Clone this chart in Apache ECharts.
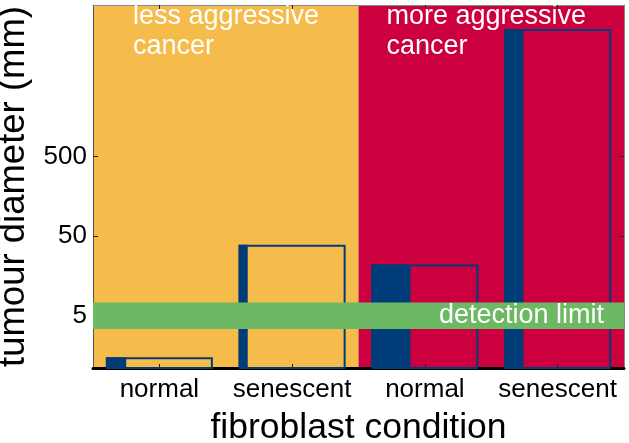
<!DOCTYPE html>
<html><head><meta charset="utf-8">
<script src="https://cdn.jsdelivr.net/npm/echarts@6/dist/echarts.min.js"></script>
<style>html,body{margin:0;padding:0;background:#fff}#c{width:629px;height:443px}</style>
</head><body><div id="c"></div>
<script>
// ---- data ----
const categories = ['normal', 'senescent', 'normal', 'senescent'];
const tumourDiameter = [1.5, 39, 22, 20000];          // outlined bar heights (mm)
const filledShare = [0.19, 0.085, 0.365, 0.18];       // share of each bar drawn filled
const groupLabels = ['less aggressive\ncancer', 'more aggressive\ncancer'];
const groupSpan = [[0, 1, 0], [2, 3, 1]];             // first category, last category, group
const yTicks = [5, 50, 500];
const detectionLimit = [3.4, 7.3];
const detectionLabel = 'detection limit';
const yRange = [1.1, 40000];

// ---- styles ----
const FONT = '"Liberation Sans", Arial, Helvetica, sans-serif';
const bgColors = ['#F5BC4C', '#CC003E'];
const groupLabelOffset = [40, 28];
const blue = '#003C78';
const green = '#6DB862';
const BOX = 0.806;

const chart = echarts.init(document.getElementById('c'), null, {renderer: 'canvas'});

function bandWidth(api) {
  return api.coord([1, 10])[0] - api.coord([0, 10])[0];
}

chart.setOption({
  animation: false,
  grid: {left: 93, right: 5, top: 5, bottom: 75, outerBoundsMode: 'none', containLabel: false},
  xAxis: [{
    type: 'category', data: categories, boundaryGap: true,
    axisLine: {lineStyle: {color: '#000', width: 3}},
    axisTick: {show: true, inside: true, alignWithLabel: true, length: 4, lineStyle: {color: '#222', width: 1}},
    axisLabel: {color: '#000', fontSize: 26, fontFamily: FONT, margin: 9, interval: 0, hideOverlap: false},
    splitLine: {show: false},
    name: 'fibroblast condition', nameLocation: 'middle', nameGap: 42,
    nameTextStyle: {color: '#000', fontSize: 35.5, fontFamily: FONT}
  }, {
    type: 'category', data: categories, position: 'top', boundaryGap: true,
    axisLine: {lineStyle: {color: '#888', width: 1}},
    axisTick: {show: true, inside: true, alignWithLabel: true, length: 4, interval: 0, lineStyle: {color: '#222'}},
    axisLabel: {show: false}, splitLine: {show: false}
  }],
  yAxis: [{
    type: 'log', logBase: 10, min: yRange[0], max: yRange[1],
    axisLine: {show: true, lineStyle: {color: '#555', width: 1}},
    axisTick: {show: true, inside: true, length: 5, customValues: yTicks, lineStyle: {color: '#222'}},
    axisLabel: {customValues: yTicks, color: '#000', fontSize: 26, fontFamily: FONT, margin: 6},
    splitLine: {show: false}, minorTick: {show: false},
    name: 'tumour diameter (mm)', nameLocation: 'middle', nameGap: 50,
    nameTextStyle: {color: '#000', fontSize: 36.5, fontFamily: FONT}
  }, {
    type: 'log', logBase: 10, min: yRange[0], max: yRange[1], position: 'right',
    axisLine: {show: true, lineStyle: {color: '#888', width: 1}},
    axisTick: {show: true, inside: true, length: 5, customValues: yTicks, lineStyle: {color: '#222'}},
    axisLabel: {show: false}, splitLine: {show: false}
  }],
  series: [{
    type: 'custom', z: 0, silent: true,
    data: groupSpan,
    renderItem(params, api) {
      const a = api.value(0), b = api.value(1), g = api.value(2);
      const band = bandWidth(api);
      const x0 = api.coord([a, 10])[0] - band / 2;
      const x1 = api.coord([b, 10])[0] + band / 2;
      const cs = params.coordSys;
      return {type: 'group', children: [
        {type: 'rect', shape: {x: x0, y: cs.y, width: x1 - x0, height: cs.height}, style: {fill: bgColors[g]}},
        {type: 'text', x: x0 + groupLabelOffset[g], y: cs.y - 3, z2: 10,
         style: {text: groupLabels[g], fill: '#fff', font: '27px ' + FONT, lineHeight: 30, verticalAlign: 'top'}}
      ]};
    }
  }, {
    type: 'bar', z: 2, data: tumourDiameter, barWidth: (BOX * 100) + '%',
    itemStyle: {color: 'rgba(0,0,0,0)', borderColor: blue, borderWidth: 2}
  }, {
    type: 'custom', z: 3, silent: true,
    data: tumourDiameter.map((v, i) => [i, v, filledShare[i]]),
    renderItem(params, api) {
      const i = api.value(0), v = api.value(1), s = api.value(2);
      const band = bandWidth(api);
      const boxW = band * BOX;
      const top = api.coord([i, v]);
      const base = api.coord([i, yRange[0]]);
      const x0 = top[0] - boxW / 2;
      return {type: 'rect', shape: {x: x0, y: top[1], width: boxW * s, height: base[1] - top[1]},
              style: {fill: blue}};
    }
  }, {
    type: 'custom', z: 5, silent: true,
    data: [[0, detectionLimit[0], detectionLimit[1]]],
    encode: {x: 0, y: [1, 2]},
    renderItem(params, api) {
      const cs = params.coordSys;
      const lo = api.coord([0, api.value(1)])[1];
      const hi = api.coord([0, api.value(2)])[1];
      return {type: 'group', children: [
        {type: 'rect', shape: {x: cs.x, y: hi, width: cs.width, height: lo - hi}, style: {fill: green}},
        {type: 'text', x: cs.x + cs.width - 20, y: (lo + hi) / 2, z2: 10,
         style: {text: detectionLabel, fill: '#fff', font: '27px ' + FONT, align: 'right', verticalAlign: 'middle'}}
      ]};
    }
  }]
});
</script></body></html>
